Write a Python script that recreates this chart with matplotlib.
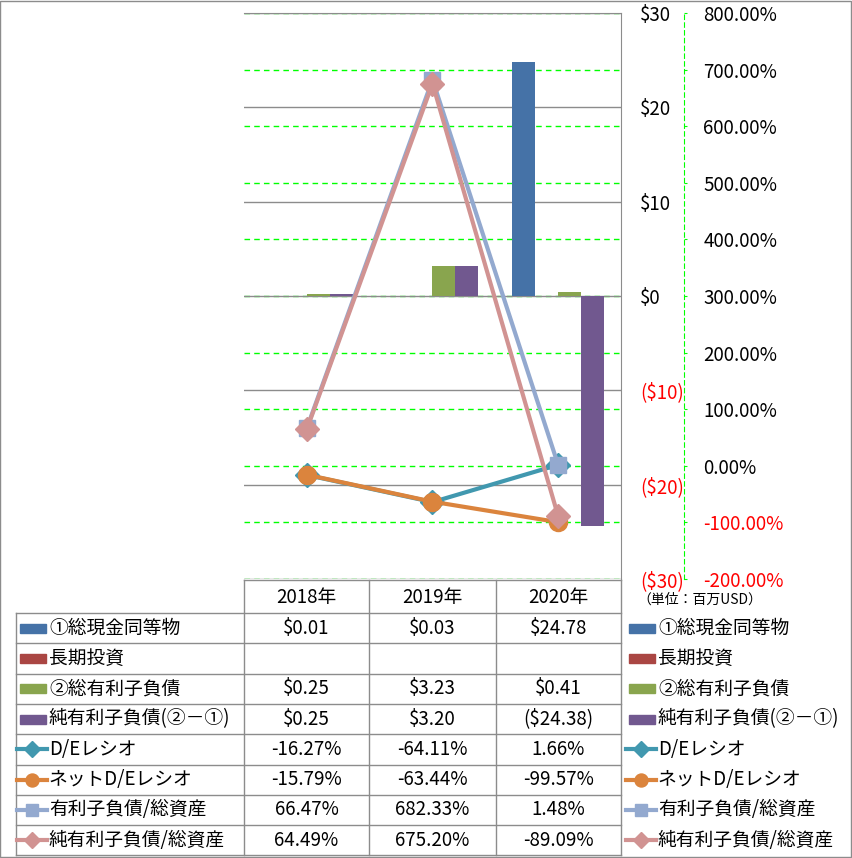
import numpy as np
import matplotlib
matplotlib.use('Agg')
import matplotlib.pyplot as plt
from matplotlib.lines import Line2D
from matplotlib.patches import Rectangle
from matplotlib.transforms import blended_transform_factory

plt.rcParams['font.family'] = ['Noto Sans CJK JP', 'DejaVu Sans']

# data
years = ['2018年', '2019年', '2020年']
cash = [0.01, 0.03, 24.78]
lt_invest = [np.nan, np.nan, np.nan]
debt = [0.25, 3.23, 0.41]
net_debt = [0.25, 3.20, -24.38]
de_ratio = [-16.27, -64.11, 1.66]
net_de_ratio = [-15.79, -63.44, -99.57]
debt_assets = [66.47, 682.33, 1.48]
net_debt_assets = [64.49, 675.20, -89.09]

bar_names = ['①総現金同等物', '長期投資', '②総有利子負債', '純有利子負債(②－①)']
line_names = ['D/Eレシオ', 'ネットD/Eレシオ', '有利子負債/総資産', '純有利子負債/総資産']
usd_ticks = [-30, -20, -10, 0, 10, 20, 30]
pct_ticks = [-200, -100, 0, 100, 200, 300, 400, 500, 600, 700, 800]
unit_label = '（単位：百万USD）'

bar_colors = ['#4572A7', '#AA4643', '#89A54E', '#71588F']
line_colors = ['#4198AF', '#DB843D', '#93A9CF', '#D19392']
line_markers = ['D', 'o', 's', 'D']
marker_sizes = [12, 13, 12, 12]
GREEN = '#00FF00'
GRAY = '#8C8C8C'
FS = 13.5

W, H = 853, 858
fig = plt.figure(figsize=(W / 100, H / 100), dpi=100)


def frac(x0, y0, x1, y1):
    return [x0 / W, 1 - y1 / H, (x1 - x0) / W, (y1 - y0) / H]


ax = fig.add_axes(frac(244, 13, 621, 579))
ax2 = ax.twinx()

x = np.arange(len(years))
ax.set_xlim(-0.5, 2.5)
ax.set_ylim(-30, 30)
ax2.set_ylim(-200, 800)

# gridlines
ax.set_axisbelow(True)
ax.yaxis.grid(True, color=GRAY, lw=1)
blend = blended_transform_factory(ax.transAxes, ax2.transData)
for v in pct_ticks:
    ax.plot([0, 1], [v, v], transform=blend, color=GREEN, lw=1,
            ls=(0, (4, 3)), zorder=0.4)

# bars
w = 0.183
bar_data = [cash, lt_invest, debt, net_debt]
for i, (vals, col) in enumerate(zip(bar_data, bar_colors)):
    ax.bar(x + (i - 1.5) * w, vals, w, color=col, zorder=2)

# lines
line_data = [de_ratio, net_de_ratio, debt_assets, net_debt_assets]
for vals, col, mk, ms in zip(line_data, line_colors, line_markers, marker_sizes):
    ax2.plot(x, vals, color=col, lw=3, marker=mk, ms=ms, mec=col, mew=1)

# axes styling
for s in ['left', 'bottom']:
    ax.spines[s].set_visible(False)
ax.spines['top'].set_color(GRAY)
ax.spines['right'].set_color(GRAY)
for s in ['left', 'bottom', 'top']:
    ax2.spines[s].set_visible(False)
ax2.spines['right'].set_position(('outward', 63 * 0.72))
ax2.spines['right'].set_color(GREEN)
ax2.spines['right'].set_linestyle((0, (4, 3)))
ax.set_xticks([])

ax.yaxis.set_ticks_position('right')
usd_labels = [f'${t}' if t >= 0 else f'(${-t})' for t in usd_ticks]
ax.set_yticks(usd_ticks, usd_labels)
ax.tick_params(axis='y', length=0, pad=13.7, labelsize=FS)
for t, lab in zip(usd_ticks, ax.get_yticklabels()):
    lab.set_color('#FF0000' if t < 0 else 'black')

ax2.set_yticks(pct_ticks, [f'{t:.2f}%' for t in pct_ticks])
ax2.tick_params(axis='y', direction='out', length=2.5, color=GREEN, pad=11.5,
                labelsize=FS)
for t, lab in zip(pct_ticks, ax2.get_yticklabels()):
    lab.set_color('#FF0000' if t < 0 else 'black')

# data table + legend, drawn in pixel space
axt = fig.add_axes([0, 0, 1, 1])
axt.set_xlim(0, W)
axt.set_ylim(H, 0)
axt.axis('off')

row_top = 613
row_h = 30.3
n_rows = len(bar_names) + len(line_names)
edges = [row_top + row_h * i for i in range(n_rows + 1)]
col_x = [244, 369, 496, 621]
lkw = dict(color=GRAY, lw=1)
axt.plot([244, 621], [580, 580], **lkw)
for y in edges:
    axt.plot([16, 621], [y, y], **lkw)
axt.plot([16, 16], [row_top, edges[-1]], **lkw)
for cx in col_x:
    axt.plot([cx, cx], [580, edges[-1]], **lkw)

centers = [(col_x[i] + col_x[i + 1]) / 2 for i in range(3)]
for cx, yr in zip(centers, years):
    axt.text(cx, 597, yr, ha='center', va='center', fontsize=FS)


def fmt_usd(v):
    if np.isnan(v):
        return ''
    return f'${v:.2f}' if v >= 0 else f'(${-v:.2f})'


rows = []
for name, vals, col in zip(bar_names, bar_data, bar_colors):
    rows.append(('bar', name, [fmt_usd(v) for v in vals], col, None, None))
for name, vals, col, mk, ms in zip(line_names, line_data, line_colors,
                                   line_markers, marker_sizes):
    rows.append(('line', name, [f'{v:.2f}%' for v in vals], col, mk, ms))

for r, (kind, name, texts, col, mk, ms) in enumerate(rows):
    yc = edges[r] + row_h / 2
    for lx in (17, 626):
        if kind == 'bar':
            axt.add_patch(Rectangle((lx + 3, yc - 4.5), 26, 9, color=col))
        else:
            axt.add_line(Line2D([lx, lx + 30], [yc, yc], color=col, lw=3))
            axt.add_line(Line2D([lx + 15], [yc], marker=mk, ms=ms * 0.72,
                                color=col, mec=col))
        axt.text(lx + 32, yc, name, ha='left', va='center', fontsize=FS)
    for cx, s in zip(centers, texts):
        axt.text(cx, yc, s, ha='center', va='center', fontsize=FS)

axt.text(637, 600, unit_label, ha='left', va='center', fontsize=10)

# outer frame
axt.add_patch(Rectangle((0.5, 1), W - 2, H - 2, fill=False, ec=GRAY, lw=1))

fig.savefig('out.png', dpi=100)
